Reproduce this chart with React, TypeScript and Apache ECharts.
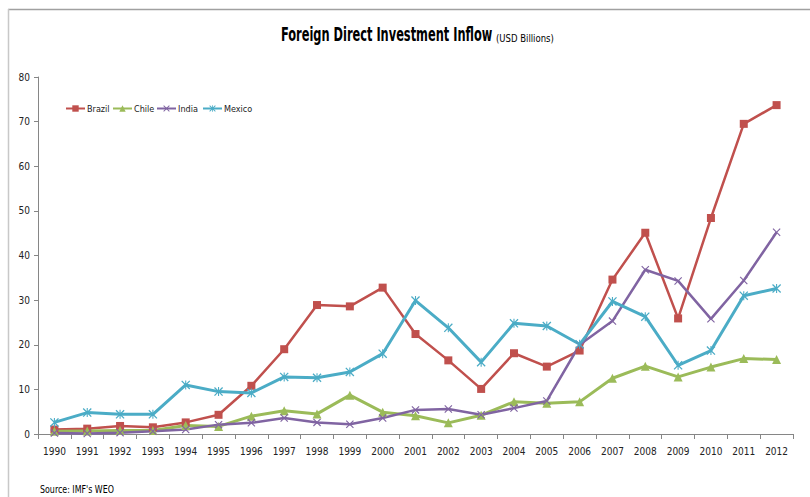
import React, { useEffect, useRef } from "react";
import * as echarts from "echarts";

const years = ["1990","1991","1992","1993","1994","1995","1996","1997","1998","1999","2000","2001","2002","2003","2004","2005","2006","2007","2008","2009","2010","2011","2012"];
const brazil = [1.0,1.2,1.8,1.5,2.6,4.3,10.8,19.0,28.9,28.6,32.8,22.4,16.5,10.1,18.1,15.1,18.7,34.6,45.1,25.9,48.4,69.5,73.7];
const chile = [0.6,0.7,0.8,0.8,1.9,1.7,4.0,5.2,4.5,8.7,4.9,4.1,2.5,4.2,7.2,6.9,7.2,12.5,15.2,12.8,15.0,16.9,16.7];
const india = [0.2,0.1,0.3,0.6,1.0,2.1,2.5,3.6,2.6,2.2,3.6,5.4,5.6,4.3,5.8,7.4,20.0,25.3,36.8,34.3,25.8,34.4,45.2];
const mexico = [2.6,4.8,4.4,4.4,11.0,9.5,9.2,12.8,12.6,13.9,18.0,29.9,23.8,16.1,24.8,24.2,20.1,29.7,26.3,15.4,18.7,31.0,32.6];
const seriesNames = ["Brazil", "Chile", "India", "Mexico"];
const yTicks = { min: 0, max: 80, interval: 10 };

const FONT = '"DejaVu Sans Condensed", "Liberation Sans", sans-serif';
const X_SYMBOL = "path://M0,1L1,0L10,9L9,10Z M9,0L10,1L1,10L0,9Z";
const STAR_SYMBOL = "path://M0,1L1,0L10,9L9,10Z M9,0L10,1L1,10L0,9Z M4.4,0L5.6,0L5.6,10L4.4,10Z";
const legendLefts = [65, 112, 156, 202];

export default function App() {
  const ref = useRef<HTMLDivElement>(null);
  useEffect(() => {
    if (!ref.current) return;
    const chart = echarts.init(ref.current, null, { renderer: "svg" });
    const mk = (name: string, data: number[], color: string, symbol: string, size: number, width: number) => ({
      name,
      type: "line",
      data,
      symbol,
      symbolSize: size,
      showAllSymbol: true,
      lineStyle: { color, width },
      itemStyle: { color },
      emphasis: { disabled: true },
    });
    chart.setOption({
      animation: false,
      backgroundColor: "#ffffff",
      textStyle: { fontFamily: FONT },
      grid: { left: 38, right: 17, top: 77, bottom: 63, containLabel: false },
      legend: seriesNames.map((n, i) => ({
        left: legendLefts[i],
        top: 104,
        itemWidth: 19,
        itemHeight: 8,
        itemGap: 0,
        padding: 0,
        textStyle: { fontFamily: FONT, fontSize: 9, color: "#222", padding: [0, 0, 0, -3] },
        data: [n],
      })),
      xAxis: {
        type: "category",
        data: years,
        boundaryGap: true,
        axisLine: { lineStyle: { color: "#868686", width: 1 } },
        axisTick: { show: true, interval: 0, length: 5, lineStyle: { color: "#868686" } },
        axisLabel: { interval: 0, margin: 12, fontSize: 10, color: "#222", fontFamily: FONT },
        splitLine: { show: false },
      },
      yAxis: {
        type: "value",
        min: yTicks.min,
        max: yTicks.max,
        interval: yTicks.interval,
        axisLine: { show: true, lineStyle: { color: "#868686", width: 1 } },
        axisTick: { show: true, length: 4, lineStyle: { color: "#868686" } },
        axisLabel: { margin: 8, fontSize: 10, color: "#222", fontFamily: FONT },
        splitLine: { show: false },
      },
      graphic: [
        { type: "line", shape: { x1: 8, y1: 9.5, x2: 810, y2: 9.5 }, style: { stroke: "#a0a0a0", lineWidth: 1.5 }, silent: true },
        { type: "line", shape: { x1: 8.5, y1: 9, x2: 8.5, y2: 497 }, style: { stroke: "#c8c8c8", lineWidth: 1.5 }, silent: true },
        {
          type: "text", x: 281, y: 35, scaleX: 0.667,
          style: { text: "Foreign Direct Investment Inflow", font: `bold 19px ${FONT}`, fill: "#000", textAlign: "left", textVerticalAlign: "middle" },
        },
        {
          type: "text", x: 496, y: 38, scaleX: 0.86,
          style: { text: "(USD Billions)", font: `11px ${FONT}`, fill: "#000", textAlign: "left", textVerticalAlign: "middle" },
        },
        {
          type: "text", x: 40, y: 489, scaleX: 0.8,
          style: { text: "Source: IMF's WEO", font: `11px ${FONT}`, fill: "#000", textAlign: "left", textVerticalAlign: "middle" },
        },
      ],
      series: [
        mk("Brazil", brazil, "#C0504D", "rect", 8, 2.5),
        mk("Chile", chile, "#9BBB59", "triangle", 9, 3),
        mk("India", india, "#8064A2", X_SYMBOL, 8, 2.5),
        mk("Mexico", mexico, "#4BACC6", STAR_SYMBOL, 9, 3),
      ],
    });
    return () => chart.dispose();
  }, []);
  return <div ref={ref} style={{ position: "absolute", left: 0, top: 0, width: 810, height: 497 }} />;
}
